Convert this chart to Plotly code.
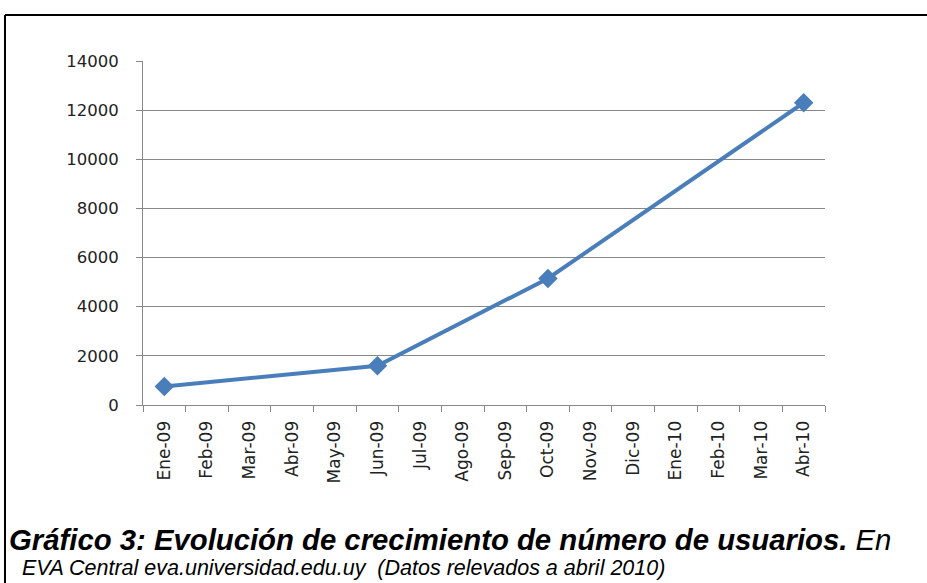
import plotly.graph_objects as go

months = ["Ene-09", "Feb-09", "Mar-09", "Abr-09", "May-09", "Jun-09", "Jul-09", "Ago-09",
          "Sep-09", "Oct-09", "Nov-09", "Dic-09", "Ene-10", "Feb-10", "Mar-10", "Abr-10"]
users = [750, None, None, None, None, 1600, None, None,
         None, 5150, None, None, None, None, None, 12300]
y_ticks = [0, 2000, 4000, 6000, 8000, 10000, 12000, 14000]

W, H = 927, 583
L, R, T, B = 143, 825, 61, 405  # plot area pixel bounds


def px(xp):
    return (xp - L) / (R - L)


def py(yp):
    return (B - yp) / (B - T)


fig = go.Figure()
fig.add_trace(go.Scatter(
    x=months, y=users, mode="lines+markers", connectgaps=True,
    line=dict(color="#4A7EBB", width=4),
    marker=dict(symbol="diamond", size=15, color="#4A7EBB"),
    showlegend=False, hoverinfo="x+y",
))

fig.update_layout(
    width=W, height=H,
    margin=dict(l=L, r=W - R, t=T, b=H - B, pad=0),
    paper_bgcolor="white", plot_bgcolor="white",
    font=dict(family="DejaVu Sans", size=14, color="#222222"),
    xaxis=dict(
        type="category", categoryorder="array", categoryarray=months,
        tickmode="array", tickvals=months, ticktext=months,
        tickangle=-90, tickson="boundaries", ticks="outside", ticklen=6,
        tickcolor="#888888", showline=True, linecolor="#888888", linewidth=1,
        showgrid=False, tickfont=dict(family="DejaVu Sans", size=17, color="#222222"),
        range=[-0.5, len(months) - 0.5], ticklabelstandoff=8,
    ),
    yaxis=dict(
        range=[0, 14000], tickmode="array", tickvals=y_ticks,
        ticktext=[str(v) for v in y_ticks],
        ticks="outside", ticklen=6, tickcolor="#888888",
        showline=True, linecolor="#888888", linewidth=1,
        showgrid=True, gridcolor="#888888", gridwidth=1, zeroline=False,
        tickfont=dict(family="DejaVu Sans", size=16.5, color="#222222"),
        ticklabelstandoff=14,
    ),
    shapes=[
        dict(type="line", xref="paper", yref="paper",
             x0=px(5), x1=px(W + 5), y0=py(15), y1=py(15),
             line=dict(color="black", width=2)),
        dict(type="line", xref="paper", yref="paper",
             x0=px(5), x1=px(5), y0=py(15), y1=py(H + 5),
             line=dict(color="black", width=2)),
    ],
    annotations=[
        dict(xref="paper", yref="paper", x=px(7), y=py(539), xanchor="left", yanchor="middle",
             showarrow=False, align="left",
             text="<b><i>Gráfico 3: Evolución de crecimiento de número de usuarios.</i></b><i> En</i>",
             font=dict(family="Liberation Sans, Arial", size=29.3, color="black")),
        dict(xref="paper", yref="paper", x=px(20), y=py(568), xanchor="left", yanchor="middle",
             showarrow=False, align="left",
             text="<i>EVA Central eva.universidad.edu.uy  (Datos relevados a abril 2010)</i>",
             font=dict(family="Liberation Sans, Arial", size=21.5, color="black")),
    ],
)

fig.write_html("out.html", config={"displayModeBar": False},
               post_script="document.body.style.margin='0';document.body.style.overflow='hidden';")
